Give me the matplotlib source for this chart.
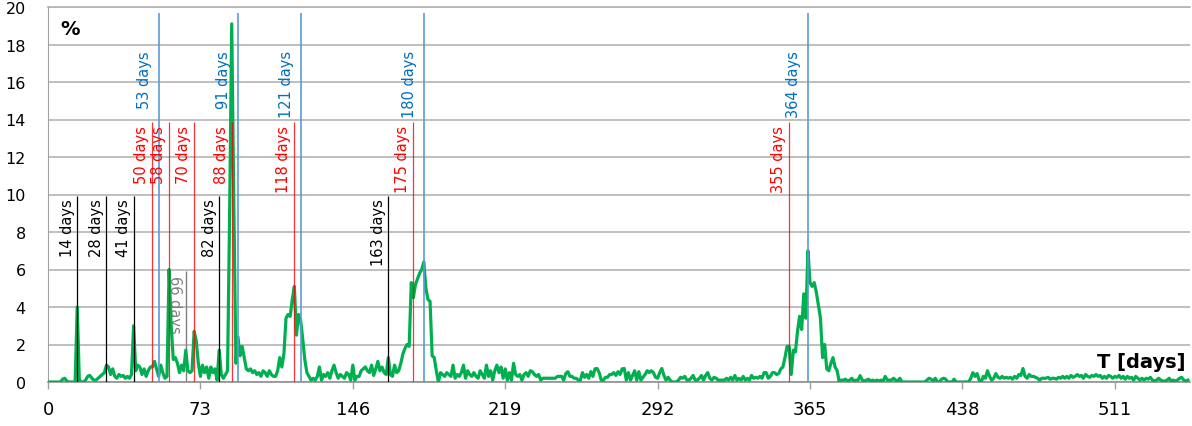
import numpy as np
import matplotlib.pyplot as plt

# daily share (%), day 0 .. 546
values = [
    0, 0, 0, 0, 0, 0, 0, 0.15, 0.2, 0.05,
    0, 0, 0, 0, 4.0, 0.1, 0, 0, 0.1, 0.3,
    0.35, 0.2, 0.1, 0.1, 0.2, 0.3, 0.4, 0.5, 0.9, 0.8,
    0.4, 0.7, 0.3, 0.2, 0.4, 0.3, 0.35, 0.2, 0.3, 0.2,
    0.4, 3.0, 0.6, 0.9, 0.8, 0.4, 0.7, 0.3, 0.6, 0.8,
    0.8, 1.1, 0.7, 0.3, 0.9, 0.5, 0.2, 0.3, 6.0, 3.0,
    1.2, 1.3, 1.0, 0.5, 0.9, 0.6, 1.7, 0.6, 0.5, 0.6,
    2.7, 2.2, 1.0, 0.3, 0.9, 0.5, 0.8, 0.2, 0.8, 0.5,
    0.7, 0.1, 1.7, 0.4, 0.2, 0.4, 0.6, 9.0, 19.1, 9.5,
    1.0, 2.4, 1.4, 1.9, 1.3, 0.7, 0.6, 0.7, 0.5, 0.6,
    0.4, 0.5, 0.3, 0.6, 0.5, 0.3, 0.6, 0.4, 0.3, 0.3,
    0.6, 1.3, 0.8, 1.5, 3.4, 3.6, 3.5, 4.4, 5.1, 2.5,
    3.6, 3.3, 2.3, 1.2, 0.5, 0.3, 0.1, 0.2, 0.1, 0.3,
    0.8, 0.1, 0.4, 0.3, 0.5, 0.2, 0.6, 0.9, 0.5, 0.2,
    0.4, 0.3, 0.2, 0.5, 0.4, 0.1, 0.9, 0.1, 0.3, 0.3,
    0.6, 0.7, 0.8, 0.6, 0.5, 0.9, 0.35, 0.7, 1.1, 0.6,
    0.8, 0.5, 0.4, 1.3, 0.4, 0.3, 0.9, 0.5, 0.6, 1.0,
    1.5, 1.8, 2.0, 1.9, 5.3, 4.5, 5.2, 5.5, 5.8, 6.0,
    6.4, 5.0, 4.4, 4.3, 1.4, 1.3, 0.6, 0.0, 0.5, 0.4,
    0.3, 0.5, 0.4, 0.3, 0.9, 0.2, 0.4, 0.3, 0.5, 0.9,
    0.2, 0.6, 0.4, 0.3, 0.5, 0.3, 0.2, 0.6, 0.4, 0.2,
    0.9, 0.3, 0.6, 0.1, 0.6, 0.9, 0.5, 0.8, 0.2, 0.7,
    0.1, 0.5, 0.1, 1.0, 0.4, 0.3, 0.4, 0.1, 0.4, 0.5,
    0.3, 0.6, 0.55, 0.4, 0.3, 0.4, 0.1, 0.2, 0.2, 0.2,
    0.2, 0.2, 0.2, 0.2, 0.3, 0.3, 0.3, 0.1, 0.45, 0.55,
    0.3, 0.3, 0.2, 0.2, 0.1, 0.1, 0.5, 0.25, 0.4, 0.2,
    0.55, 0.3, 0.7, 0.72, 0.5, 0.1, 0.1, 0.25, 0.25, 0.4,
    0.4, 0.5, 0.35, 0.55, 0.4, 0.7, 0.72, 0.1, 0.5, 0.1,
    0.35, 0.6, 0.1, 0.55, 0.1, 0.25, 0.4, 0.6, 0.5, 0.6,
    0.5, 0.25, 0.2, 0.5, 0.72, 0.35, 0.1, 0.25, 0.1, 0.0,
    0.0, 0.0, 0.1, 0.25, 0.2, 0.3, 0.1, 0.1, 0.2, 0.35,
    0.1, 0.1, 0.2, 0.35, 0.1, 0.35, 0.5, 0.2, 0.1, 0.25,
    0.2, 0.1, 0.1, 0.1, 0.1, 0.2, 0.1, 0.25, 0.1, 0.35,
    0.1, 0.2, 0.1, 0.3, 0.1, 0.2, 0.1, 0.35, 0.2, 0.25,
    0.2, 0.3, 0.2, 0.5, 0.5, 0.2, 0.3, 0.5, 0.5, 0.4,
    0.45, 0.7, 0.8, 1.3, 1.9, 1.9, 0.4, 1.7, 1.6, 2.7,
    3.5, 2.8, 4.7, 3.4, 7.0, 5.3, 5.1, 5.3, 4.8, 4.1,
    3.4, 1.3, 2.0, 0.7, 0.6, 1.0, 1.3, 0.8, 0.6, 0.0,
    0.1, 0.1, 0.15, 0.05, 0.1, 0.2, 0.05, 0.1, 0.1, 0.34,
    0.1, 0.05, 0.1, 0.15, 0.05, 0.1, 0.05, 0.1, 0.05, 0.1,
    0.05, 0.3, 0.1, 0.1, 0.1, 0.2, 0.1, 0.05, 0.2, 0.0,
    0, 0, 0, 0, 0, 0, 0, 0, 0, 0,
    0, 0.1, 0.2, 0.15, 0.05, 0.2, 0, 0, 0.15, 0.2,
    0.15, 0, 0, 0, 0.15, 0, 0, 0, 0, 0,
    0, 0, 0.2, 0.5, 0.3, 0.45, 0.1, 0, 0.3, 0.2,
    0.6, 0.3, 0.1, 0.2, 0.45, 0.25, 0.2, 0.3, 0.2, 0.25,
    0.2, 0.25, 0.15, 0.3, 0.2, 0.4, 0.35, 0.72, 0.3, 0.2,
    0.4, 0.3, 0.3, 0.25, 0.2, 0.1, 0.2, 0.2, 0.2, 0.25,
    0.15, 0.2, 0.2, 0.15, 0.25, 0.2, 0.3, 0.2, 0.3, 0.2,
    0.35, 0.25, 0.3, 0.4, 0.3, 0.35, 0.2, 0.4, 0.3, 0.25,
    0.35, 0.3, 0.4, 0.3, 0.35, 0.2, 0.3, 0.2, 0.35, 0.3,
    0.2, 0.3, 0.25, 0.35, 0.2, 0.3, 0.15, 0.3, 0.2, 0.25,
    0.1, 0.3, 0.2, 0.1, 0.2, 0.1, 0.2, 0.15, 0.25, 0.1,
    0.05, 0.1, 0.2, 0.1, 0.05, 0.05, 0.1, 0.2, 0.05, 0.1,
    0.05, 0.1, 0.2, 0.25, 0.1, 0.05, 0.1,
]
days = np.arange(len(values))

# marked periods
black_days = [14, 28, 41, 82, 163]
red_days = [50, 58, 70, 88, 118, 175, 355]
blue_days = [53, 91, 121, 180, 364]
gray_days = [66]

x_ticks = [0, 73, 146, 219, 292, 365, 438, 511]
y_ticks = [0, 2, 4, 6, 8, 10, 12, 14, 16, 18, 20]

label_font = ['Liberation Sans Narrow', 'DejaVu Sans']

fig = plt.figure(figsize=(11.92, 4.27), dpi=100)
ax = fig.add_axes([48 / 1192, 44 / 427, 1142 / 1192, 375 / 427])

ax.plot(days, values, color='#00b050', linewidth=2.3, zorder=3, solid_joinstyle='round')

# vertical markers
ax.vlines(black_days, 0, 9.9, colors='black', linewidth=0.9, zorder=4)
ax.vlines(red_days, 0, 13.85, colors='#ff0000', linewidth=0.9, alpha=0.8, zorder=4)
ax.vlines(blue_days, 0, 19.7, colors='#5b9bd5', linewidth=1.2, zorder=4)
ax.vlines(gray_days, 0, 5.9, colors='#808080', linewidth=1.0, zorder=2)

for d in black_days:
    ax.text(d - 1.2, 9.8, f'{d} days', rotation=90, ha='right', va='top',
            fontsize=10.5, color='black', family=label_font, zorder=5)
for d in red_days:
    ax.text(d - 1.5, 13.7, f'{d} days', rotation=90, ha='right', va='top',
            fontsize=10.5, color='#ff0000', family=label_font, zorder=5)
for d in blue_days:
    ax.text(d - 3.3, 17.7, f'{d} days', rotation=90, ha='right', va='top',
            fontsize=10.5, color='#0070c0', family=label_font, zorder=5)
for d in gray_days:
    ax.text(d - 1.6, 5.7, f'{d} days', rotation=270, ha='right', va='top',
            fontsize=10.5, color='#808080', family=label_font, zorder=1)

ax.set_xlim(0, 547)
ax.set_ylim(0, 20)
ax.set_xticks(x_ticks)
ax.set_yticks(y_ticks)
ax.tick_params(axis='y', length=0, pad=16, labelsize=11.5)
ax.tick_params(axis='x', length=5, width=1, color='#a0a0a0', pad=8, labelsize=13)

ax.grid(axis='y', color='#b4b4b4', linewidth=1.2, zorder=0)
ax.axhline(20, color='#b4b4b4', linewidth=1.2, clip_on=False, zorder=0)
ax.set_axisbelow(True)
for s in ['top', 'right']:
    ax.spines[s].set_visible(False)
ax.spines['left'].set_color('#a0a0a0')
ax.spines['bottom'].set_color('#909090')
ax.spines['bottom'].set_linewidth(1.2)

ax.text(0.011, 0.943, '%', transform=ax.transAxes, fontsize=14, fontweight='bold',
        ha='left', va='center')
ax.text(0.996, 0.8, 'T [days]', transform=ax.get_yaxis_transform(), fontsize=14,
        fontweight='bold', ha='right', va='baseline')

fig.savefig('out.png', dpi=100)
